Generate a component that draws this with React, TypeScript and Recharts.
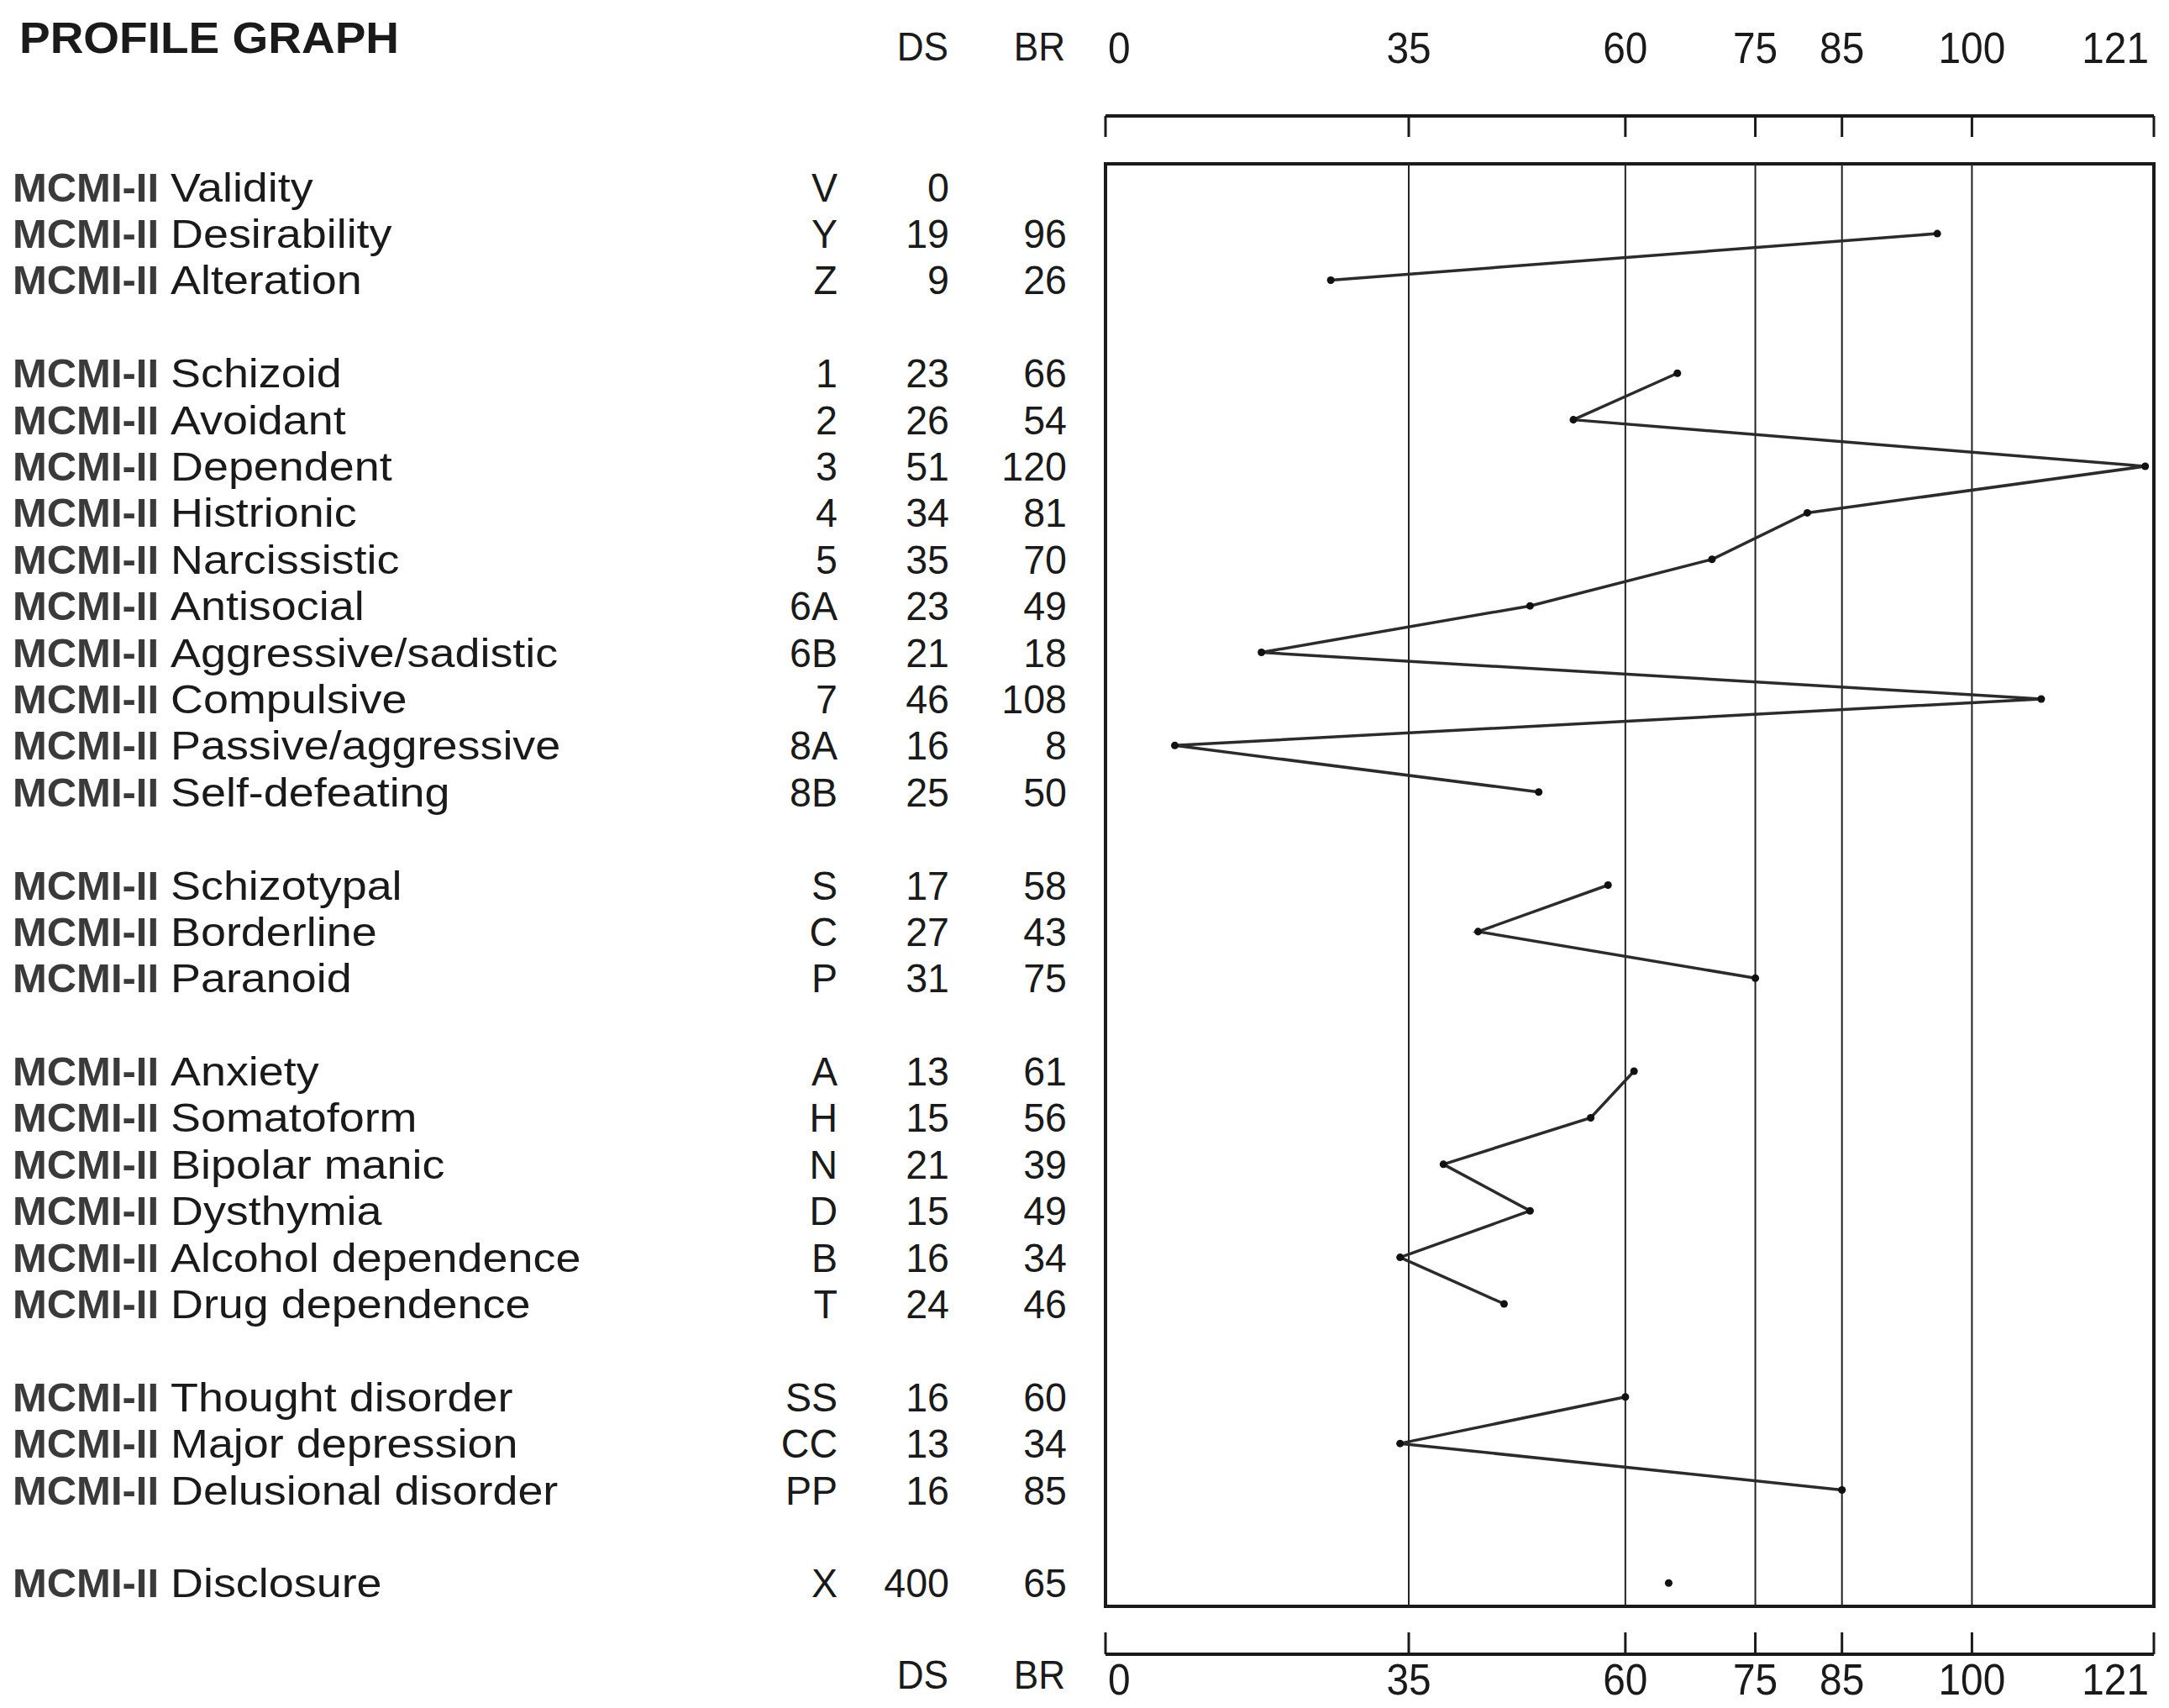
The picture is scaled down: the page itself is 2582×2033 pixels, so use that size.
import React from 'react'
import { ScatterChart, Scatter, XAxis, YAxis, ZAxis, ReferenceLine, ReferenceArea } from 'recharts'

// MCMI-II profile: scale codes, names, raw (DS) and base-rate (BR) scores
const scaleCodes = ['V', 'Y', 'Z', '1', '2', '3', '4', '5', '6A', '6B', '7', '8A', '8B', 'S', 'C', 'P', 'A', 'H', 'N', 'D', 'B', 'T', 'SS', 'CC', 'PP', 'X']
const scaleNames = [
  'Validity', 'Desirability', 'Alteration',
  'Schizoid', 'Avoidant', 'Dependent', 'Histrionic', 'Narcissistic', 'Antisocial', 'Aggressive/sadistic', 'Compulsive', 'Passive/aggressive', 'Self-defeating',
  'Schizotypal', 'Borderline', 'Paranoid',
  'Anxiety', 'Somatoform', 'Bipolar manic', 'Dysthymia', 'Alcohol dependence', 'Drug dependence',
  'Thought disorder', 'Major depression', 'Delusional disorder',
  'Disclosure'
]
const dsScores = [0, 19, 9, 23, 26, 51, 34, 35, 23, 21, 46, 16, 25, 17, 27, 31, 13, 15, 21, 15, 16, 24, 16, 13, 16, 400]
const brScores: (number | null)[] = [null, 96, 26, 66, 54, 120, 81, 70, 49, 18, 108, 8, 50, 58, 43, 75, 61, 56, 39, 49, 34, 46, 60, 34, 85, 65]
// rows per block; one blank row between blocks
const blockSizes = [3, 10, 3, 6, 3, 1]
const brTicks = [0, 35, 60, 75, 85, 100, 121]
const cutLines = [35, 60, 75, 85, 100]

type Row = { slot: number; code: string; name: string; ds: number; br: number | null }

const blocks: Row[][] = []
let idx = 0
let slot = 0
blockSizes.forEach((n) => {
  const b: Row[] = []
  for (let i = 0; i < n; i++) {
    b.push({ slot, code: scaleCodes[idx], name: scaleNames[idx], ds: dsScores[idx], br: brScores[idx] })
    idx++
    slot++
  }
  blocks.push(b)
  slot++
})
const rows = blocks.flat()
const lastSlot = rows[rows.length - 1].slot
const rowBySlot = new Map(rows.map((r) => [r.slot, r]))

const FONT = "'Liberation Sans', Arial, Helvetica, sans-serif"
const INK = '#1a1a1a'
const ROW_FS = 49 // keeps each row's text box inside its slot

function ScaledText({ x, y, text, size = ROW_FS, sx = 0.95, anchor = 'end', weight = 'normal', fill = INK }: any) {
  return (
    <text transform={`translate(${x},${y}) scale(${sx},1)`} x={0} y={0} textAnchor={anchor}
      fontFamily={FONT} fontSize={size} fontWeight={weight} fill={fill}>
      {text}
    </text>
  )
}

function RowTick(props: any) {
  const { y, payload } = props
  const row = rowBySlot.get(payload.value)
  if (!row) return null
  const base = y + 17
  return (
    <g>
      <text x={15} y={base} fontFamily={FONT} fontWeight="bold" fontSize={ROW_FS} fill="#3a3a3a"
        textLength={174} lengthAdjust="spacingAndGlyphs">MCMI-II</text>
      <ScaledText x={203} y={base} text={row.name} sx={1.1} anchor="start" />
      <ScaledText x={997} y={base} text={row.code} />
      <ScaledText x={1130} y={base} text={String(row.ds)} />
      {row.br != null && <ScaledText x={1270} y={base} text={String(row.br)} />}
    </g>
  )
}

function anchorFor(i: number) {
  if (i === 0) return { a: 'start', dx: 3 }
  if (i === brTicks.length - 1) return { a: 'end', dx: -6 }
  return { a: 'middle', dx: 0 }
}

function TopTick(props: any) {
  const { x, payload, index } = props
  const { a, dx } = anchorFor(index)
  return (
    <g>
      <line x1={x} x2={x} y1={138} y2={163} stroke={INK} strokeWidth={3} />
      <ScaledText x={x + dx} y={75} text={String(payload.value)} size={52} sx={0.92} anchor={a} />
    </g>
  )
}

function BottomTick(props: any) {
  const { x, payload, index } = props
  const { a, dx } = anchorFor(index)
  return (
    <g>
      <line x1={x} x2={x} y1={1943} y2={1969} stroke={INK} strokeWidth={3} />
      <ScaledText x={x + dx} y={2017} text={String(payload.value)} size={52} sx={0.92} anchor={a} />
    </g>
  )
}

export default function App() {
  return (
    <div style={{ position: 'absolute', left: 0, top: 0, width: 2582, height: 2033, background: '#fff' }}>
      <ScatterChart width={2582} height={2033} margin={{ top: 0, right: 18, bottom: 0, left: 0 }}>
        <XAxis xAxisId="bottom" type="number" dataKey="br" domain={[0, 121]} allowDataOverflow
          orientation="bottom" height={121} ticks={brTicks} interval={0}
          axisLine={false} tickLine={false} tick={(p: any) => <BottomTick {...p} />} />
        <XAxis xAxisId="top" type="number" dataKey="br" domain={[0, 121]} allowDataOverflow
          orientation="top" height={195} ticks={brTicks} interval={0}
          axisLine={false} tickLine={false} tick={(p: any) => <TopTick {...p} />} />
        <YAxis yAxisId="rows" type="number" dataKey="slot" domain={[-0.5, lastSlot + 0.5]} allowDataOverflow
          reversed width={1316} ticks={rows.map((r) => r.slot)} interval={0}
          axisLine={false} tickLine={false} tick={(p: any) => <RowTick {...p} />} />
        <ZAxis range={[120, 120]} />

        <ReferenceArea xAxisId="bottom" yAxisId="rows" x1={0} x2={121} y1={-0.5} y2={lastSlot + 0.5}
          fill="none" stroke={INK} strokeWidth={4} ifOverflow="visible" />
        {cutLines.map((v) => (
          <ReferenceLine key={v} xAxisId="bottom" yAxisId="rows" x={v} stroke="#222" strokeWidth={2} />
        ))}
        <ReferenceLine xAxisId="bottom" yAxisId="rows" y={-1.53} stroke={INK} strokeWidth={4} ifOverflow="visible" />
        <ReferenceLine xAxisId="bottom" yAxisId="rows" y={lastSlot + 1.53} stroke={INK} strokeWidth={4} ifOverflow="visible" />

        {blocks.map((b, i) => (
          <Scatter key={i} xAxisId="bottom" yAxisId="rows"
            data={b.filter((r) => r.br != null)}
            fill="#111" line={{ stroke: '#2b2b2b', strokeWidth: 3.5 }} lineType="joint"
            isAnimationActive={false} />
        ))}
      </ScatterChart>

      <svg width={2582} height={2033} style={{ position: 'absolute', left: 0, top: 0, pointerEvents: 'none' }}>
        <text x={23} y={63} fontFamily={FONT} fontWeight="bold" fontSize={51} fill={INK}
          textLength={452} lengthAdjust="spacingAndGlyphs">PROFILE GRAPH</text>
        <ScaledText x={1129} y={72} text="DS" sx={0.9} />
        <ScaledText x={1268} y={72} text="BR" sx={0.9} />
        <ScaledText x={1129} y={2010} text="DS" sx={0.9} />
        <ScaledText x={1268} y={2010} text="BR" sx={0.9} />
      </svg>
    </div>
  )
}
